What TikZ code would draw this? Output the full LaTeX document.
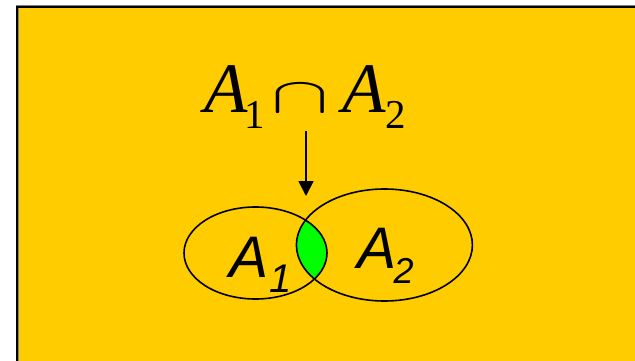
\documentclass[tikz,border=0pt]{standalone}
\usepackage{fontspec}
\setmainfont{Liberation Serif}
\newfontfamily\lsans{Liberation Sans}
\usetikzlibrary{arrows.meta}
\definecolor{bgyellow}{HTML}{FFCC00}
\definecolor{lensgreen}{HTML}{00FF00}
\definecolor{framegray}{HTML}{808080}
\tikzset{
  txt/.style={inner sep=0pt, outer sep=0pt, anchor=base west},
  setline/.style={draw=black, line width=1.6pt},
  pointer/.style={draw=black, line width=1.8pt, -{Triangle[width=15pt,length=15pt]}}
}
\begin{document}
\begin{tikzpicture}[x=1pt,y=-1pt]
\useasboundingbox (0,0) rectangle (635,361);
\clip (0,0) rectangle (635,361);
\fill[white] (0,0) rectangle (635,361);
% frame
\draw[framegray, line width=3pt, fill=bgyellow] (17,7) rectangle (660,380);
\draw[black, line width=1.3pt] (17,7) rectangle (660,380);
% lens
\begin{scope}
  \clip (255.5,253) ellipse [x radius=71.5, y radius=46];
  \fill[lensgreen] (384.4,245) ellipse [x radius=88, y radius=56];
\end{scope}
\draw[setline] (255.5,253) ellipse [x radius=71.5, y radius=46];
\draw[setline] (384.4,245) ellipse [x radius=88, y radius=56];
% formula
\node[txt] (t1) at (204,112) {\fontsize{71}{71}\selectfont\itshape A\upshape\kern-3pt\raisebox{-17pt}{\fontsize{41}{41}\selectfont 1}};
\node[inner sep=0pt] (cap) at (300,98.5) {\resizebox{57.6pt}{28pt}{$\cap$}};
\node[txt] (t2) at (342.6,112) {\fontsize{71}{71}\selectfont\itshape A\upshape\kern-0.5pt\raisebox{-17pt}{\fontsize{41}{41}\selectfont 2}};
% labels
\node[txt] (l1) at (229,277) {\lsans\fontsize{58.6}{58.6}\selectfont\itshape A\kern1pt\raisebox{-15pt}{\fontsize{40}{40}\selectfont 1}};
\node[txt] (l2) at (357,268) {\lsans\fontsize{58.6}{58.6}\selectfont\itshape A\kern-2.5pt\raisebox{-15pt}{\fontsize{36}{36}\selectfont 2}};
% arrow
\coordinate (arrS) at (306,131);
\coordinate (arrE) at (306,196);
\draw[pointer] (arrS) -- (arrE);
\end{tikzpicture}
\end{document}
